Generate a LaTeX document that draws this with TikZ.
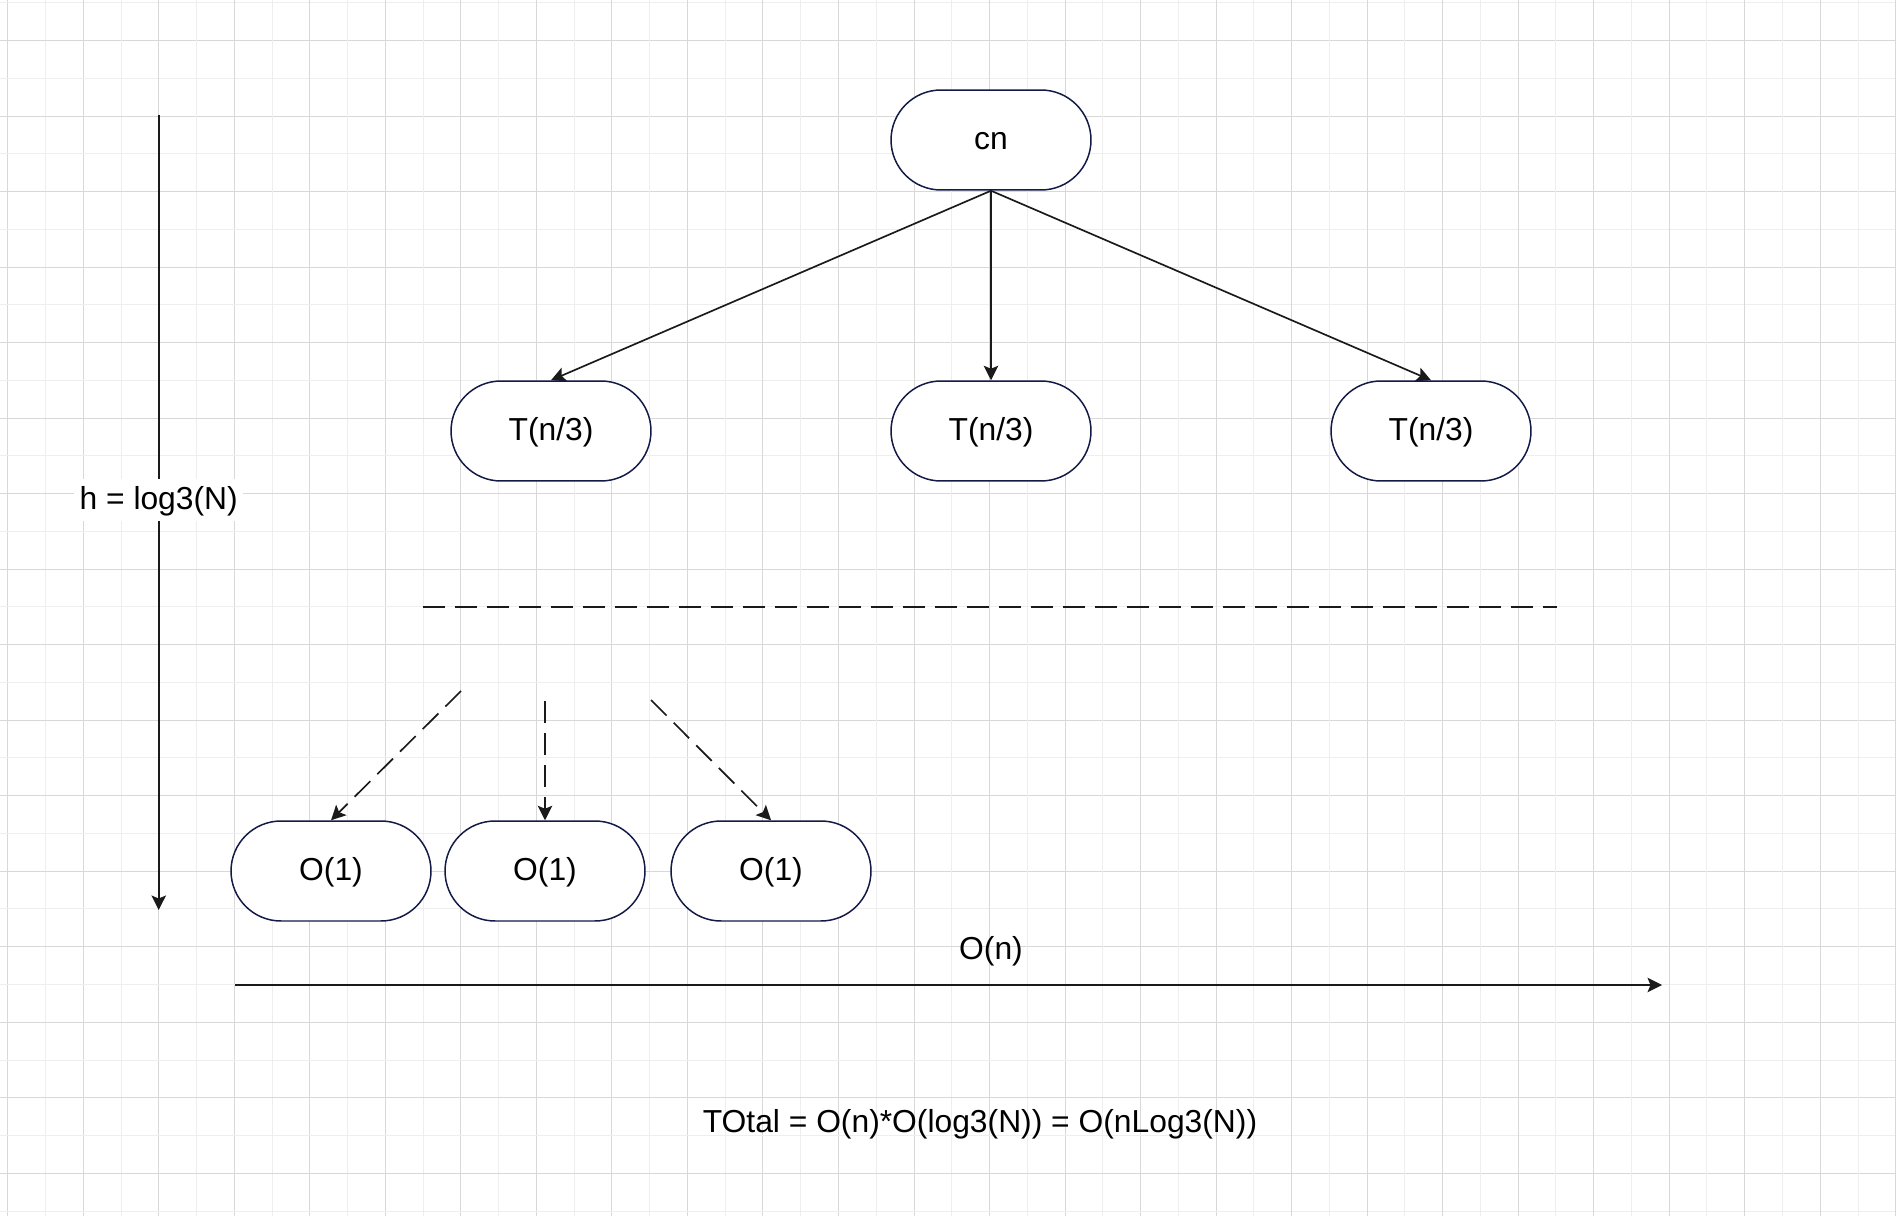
\documentclass[tikz,border=0pt]{standalone}
\usepackage{fontspec}
\setmainfont{Liberation Sans}
\usepackage{tikz}
\usetikzlibrary{shapes.misc}
\usetikzlibrary{arrows.meta}
\definecolor{navy}{RGB}{20,26,70}
\definecolor{ink}{RGB}{26,26,26}
\definecolor{gridlight}{RGB}{238,238,238}
\definecolor{griddark}{RGB}{216,216,216}
\pgfdeclarelayer{gridlayer}
\pgfdeclarelayer{nodelayer}
\pgfdeclarelayer{edgelayer}
\pgfsetlayers{gridlayer,edgelayer,nodelayer,main}
\tikzstyle{none}=[inner sep=-1pt, text height=0.82em, text depth=0.2em]
\tikzstyle{pill}=[shape=rounded rectangle, draw=navy, line width=0.85pt, fill=white, minimum width=4cm, minimum height=2cm, inner sep=0pt, text height=0.82em, text depth=0.2em]
\tikzstyle{label}=[fill=white, inner sep=3pt, text height=0.82em, text depth=0.2em]
\tikzset{arr/.style={draw=ink, line width=0.95pt, -{Stealth[length=0.29cm, width=0.29cm, inset=0.06cm]}}}
\tikzset{dash22/.style={dash pattern=on 0.44cm off 0.2cm}}
\tikzset{gridline/.style={line width=0.02cm}}
\begin{document}
\fontsize{18.1pt}{21pt}\selectfont
\begin{tikzpicture}[x=0.02cm, y=-0.02cm]
        \useasboundingbox (0,0) rectangle (1896,1216);
        \begin{pgfonlayer}{gridlayer}
            \fill [white] (0,0) rectangle (1896,1216);
            % minor and major grid, snapped to whole pixels
            \foreach \i in {0,...,50} {
                \pgfmathsetmacro{\xx}{round(7.3+37.76*\i)+0.5}
                \pgfmathsetmacro{\yy}{round(2.24+37.76*\i)+0.5}
                \pgfmathparse{isodd(\i)}
                \ifnum\pgfmathresult=1
                    \draw [gridline, gridlight] (\xx,0) -- (\xx,1216);
                    \draw [gridline, griddark] (0,\yy) -- (1896,\yy);
                \else
                    \draw [gridline, griddark] (\xx,0) -- (\xx,1216);
                    \draw [gridline, gridlight] (0,\yy) -- (1896,\yy);
                \fi
            }
        \end{pgfonlayer}
        \begin{pgfonlayer}{nodelayer}
            \node [style=pill] (0) at (991, 140) {cn};
            \node [style=pill] (1) at (551, 431) {T(n/3)};
            \node [style=pill] (2) at (991, 431) {T(n/3)};
            \node [style=pill] (3) at (1431, 431) {T(n/3)};
            \node [style=pill] (4) at (331, 871) {O(1)};
            \node [style=pill] (5) at (545, 871) {O(1)};
            \node [style=pill] (6) at (771, 871) {O(1)};
            \node [style=none] (7) at (158.7, 115) {};
            \node [style=none] (8) at (158.7, 910) {};
            \node [style=label] (9) at (158.7, 500) {h = log3(N)};
            \node [style=none] (10) at (235, 985) {};
            \node [style=none] (11) at (1662, 985) {};
            \node [style=none] (12) at (991, 950) {O(n)};
            \node [style=none] (13) at (980, 1123) {TOtal = O(n)*O(log3(N)) = O(nLog3(N))};
            \node [style=none] (14) at (423, 607) {};
            \node [style=none] (15) at (1557, 607) {};
            \node [style=none] (16) at (461, 691) {};
            \node [style=none] (17) at (545, 701) {};
            \node [style=none] (18) at (651, 700) {};
        \end{pgfonlayer}
        \begin{pgfonlayer}{edgelayer}
            \draw [arr] (0.south) to (1.north);
            \draw [arr] (0.south) to (2.north);
            \draw [arr] (0.south) to (3.north);
            \draw [arr] (7.center) to (8.center);
            \draw [arr] (10.center) to (11.center);
            \draw [draw=ink, line width=0.95pt, dash22] (14.center) to (15.center);
            \draw [arr, dash22] (16.center) to (4.north);
            \draw [arr, dash22] (17.center) to (5.north);
            \draw [arr, dash22] (18.center) to (6.north);
        \end{pgfonlayer}
    \end{tikzpicture}
\end{document}
